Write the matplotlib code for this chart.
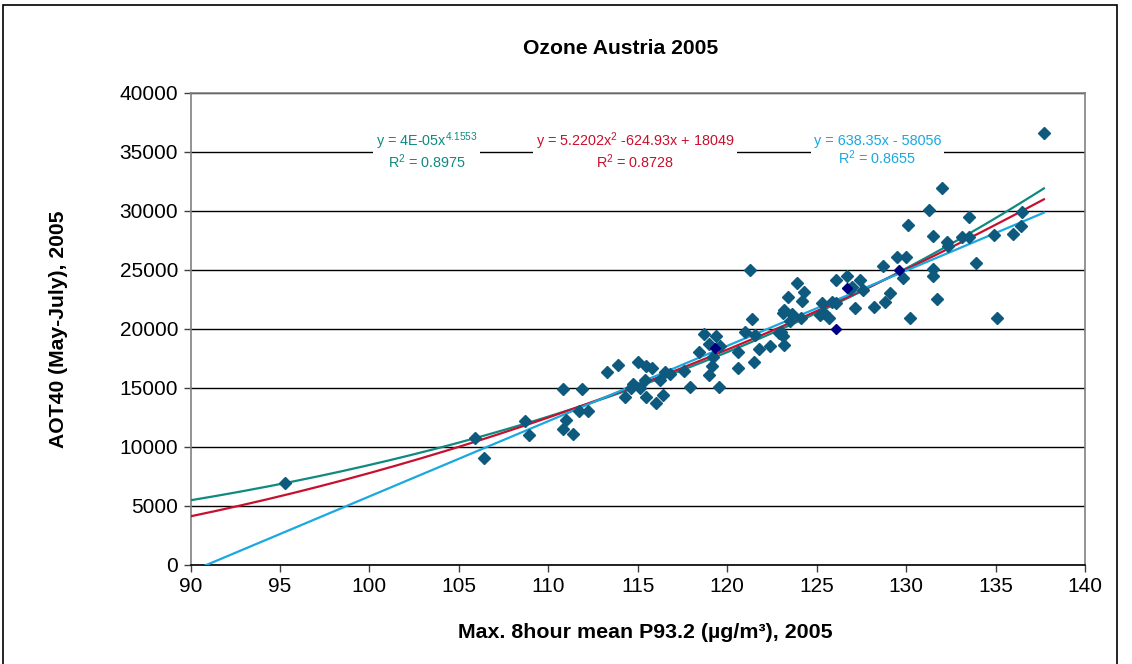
import matplotlib.pyplot as plt
import numpy as np
from matplotlib.patches import Rectangle

plt.rcParams.update({
    "font.family": ["Liberation Sans", "DejaVu Sans"],
    "mathtext.default": "regular",
})

# station values: max 8h mean P93.2 vs AOT40 (May-July)
p93 = [95.3, 105.9, 106.4, 108.7, 108.9, 110.8, 110.8, 111.0, 111.4, 111.7,
       111.9, 112.2, 113.3, 113.9, 114.3, 114.6, 114.75, 115.0, 115.1, 115.4,
       115.45, 115.8, 115.45, 116.0, 116.25, 116.5, 116.8, 116.4, 117.6, 117.9,
       118.4, 118.7, 119.0, 119.2, 119.0, 119.15, 119.4, 119.6, 119.55, 120.6,
       120.6, 121.0, 121.3, 121.4, 121.55, 121.75, 121.5, 122.4, 122.9, 123.0,
       123.1, 123.2, 123.1, 123.2, 123.4, 123.5, 123.6, 123.9, 124.1, 124.2,
       124.3, 125.2, 125.3, 125.4, 125.7, 125.85, 126.1, 126.1, 126.7, 126.85,
       127.0, 127.15, 127.4, 127.6, 128.2, 128.7, 128.8, 129.1, 129.5, 129.8,
       130.0, 130.1, 130.2, 131.3, 131.5, 131.5, 131.5, 131.7, 132.0, 132.3,
       132.35, 133.1, 133.5, 133.5, 133.9, 134.9, 135.1, 136.0, 136.4, 136.5,
       137.7]
aot40 = [6900, 10700, 9000, 12200, 11000, 14900, 11500, 12300, 11050, 13000,
         14900, 13000, 16300, 16900, 14200, 14950, 15350, 17200, 14950, 15650,
         16800, 16650, 14250, 13700, 15650, 16350, 16200, 14400, 16450, 15100,
         18000, 19550, 18700, 17600, 16100, 16800, 19400, 18550, 15100, 18000,
         16650, 19700, 25000, 20850, 19450, 18250, 17200, 18550, 19600, 19750,
         19350, 18600, 21300, 21600, 22700, 20650, 21250, 23850, 20900, 22350,
         23100, 21150, 22150, 21300, 20900, 22300, 22150, 24100, 24450, 23350,
         23500, 21800, 24150, 23300, 21850, 25300, 22300, 23000, 26100, 24300,
         26100, 28800, 20900, 30050, 27900, 25050, 24500, 22500, 31900, 27400,
         27050, 27750, 29500, 27800, 25600, 27950, 20900, 28000, 28750, 29900,
         36600]

# highlighted stations
p93_hl = [119.3, 126.1, 126.7, 129.6]
aot40_hl = [18350, 19950, 23450, 25000]

# trendline coefficients
pow_a, pow_b = 4.13e-05, 4.1553          # shown rounded as 4E-05
quad = [5.2202, -624.93, 18049]
lin = [638.35, -58056]

c_pow = "#108a80"
c_quad = "#c8102e"
c_lin = "#1aa8e0"

fig = plt.figure(figsize=(11.32, 6.64), dpi=100)
ax = fig.add_axes([0.1683, 0.1498, 0.7902, 0.7102])

ax.set_xlim(90, 140)
ax.set_ylim(0, 40000)
ax.set_xticks(np.arange(90, 141, 5))
ax.set_yticks(np.arange(0, 40001, 5000))
ax.yaxis.grid(True, color="black", linewidth=1.0)
ax.set_axisbelow(True)
for s in ax.spines.values():
    s.set_color("#808080")
    s.set_linewidth(1.2)
ax.spines["bottom"].set_color("black")
ax.tick_params(axis="both", direction="out", length=5, width=1,
               labelsize=15, color="#404040", pad=4)

xs = np.linspace(90, max(p93), 300)
ax.plot(xs, pow_a * xs ** pow_b, color=c_pow, lw=1.6, zorder=3)
ax.plot(xs, np.polyval(quad, xs), color=c_quad, lw=1.6, zorder=3)
ax.plot(xs, np.polyval(lin, xs), color=c_lin, lw=1.6, zorder=3)

ax.plot(p93, aot40, "D", color="#0e5a7e", markersize=6, zorder=4)
ax.plot(p93_hl, aot40_hl, "D", color="#000080", markersize=5, zorder=4)

box = dict(facecolor="white", edgecolor="none", pad=2)
eq_kw = dict(fontsize=10.4, ha="center", va="center", linespacing=1.0,
             bbox=box, zorder=5)
ax.text(103.2, 35100, "y = 4E-05x$^{4.1553}$\nR$^2$ = 0.8975", color=c_pow, **eq_kw)
ax.text(114.87, 35100, "y = 5.2202x$^2$ -624.93x + 18049\nR$^2$ = 0.8728",
        color=c_quad, **eq_kw)
ax.text(128.4, 35100, "y = 638.35x - 58056\nR$^2$ = 0.8655", color=c_lin, **eq_kw)

fig.text(621 / 1132, 1 - 48 / 664, "Ozone Austria 2005", fontsize=15.2,
         fontweight="bold", ha="center", va="center")
fig.text(58 / 1132, 1 - 329 / 664, "AOT40 (May-July), 2005", fontsize=15.2,
         fontweight="bold", ha="center", va="center", rotation=90)
fig.text(645 / 1132, 1 - 632 / 664, "Max. 8hour mean P93.2 (µg/m³), 2005",
         fontsize=15.4, fontweight="bold", ha="center", va="center")

# outer chart border (bottom edge runs past the canvas)
fig.patches.append(Rectangle((3 / 1132, -5 / 664), 1114 / 1132, 664 / 664,
                             transform=fig.transFigure, fill=False,
                             edgecolor="black", linewidth=1.2))

fig.savefig("out.png", dpi=100)
